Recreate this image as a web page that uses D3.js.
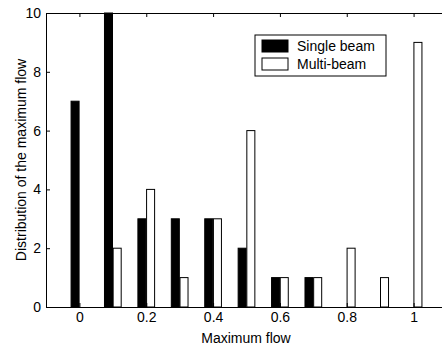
<!DOCTYPE html>
<html>
<head>
<meta charset="utf-8">
<script src="https://cdn.jsdelivr.net/npm/d3@7"></script>
<style>
  body { margin: 0; background: #fff; }
  svg { display: block; font-family: "Liberation Sans", Arial, sans-serif; }
</style>
</head>
<body>
<div id="chart"></div>
<script>
// ---- Data ----
const flowBins = [0, 0.1, 0.2, 0.3, 0.4, 0.5, 0.6, 0.7, 0.8, 0.9, 1.0];
const singleBeam = [7, 10, 3, 3, 3, 2, 1, 1, 0, 0, 0];
const multiBeam = [0, 2, 4, 1, 3, 6, 1, 1, 2, 1, 9];
const xTicks = [0, 0.2, 0.4, 0.6, 0.8, 1];
const yTicks = [0, 2, 4, 6, 8, 10];

const W = 442, H = 348;
const svg = d3.select("#chart").append("svg")
  .attr("width", W).attr("height", H);

// axes box (right edge falls just outside the picture)
const x = d3.scaleLinear().domain([-0.1, 1.1]).range([46, 447]);
const y = d3.scaleLinear().domain([0, 10]).range([307, 13]);
const barW = 0.024;

// ---- Bars ----
const series = [
  { name: "Single beam", values: singleBeam, fill: "#000", off: -barW - 0.001 },
  { name: "Multi-beam", values: multiBeam, fill: "#fff", off: 0.001 },
];

series.forEach(s => {
  svg.append("g").selectAll("rect")
    .data(flowBins.map((b, i) => ({ b, v: s.values[i] })))
    .join("rect")
    .attr("x", d => x(d.b + s.off))
    .attr("width", x(barW) - x(0))
    .attr("y", d => y(d.v))
    .attr("height", d => y(0) - y(d.v))
    .attr("fill", s.fill)
    .attr("stroke", "#000")
    .attr("stroke-width", 1);
});

// ---- Axes (MATLAB style, ticks pointing inward) ----
function styleAxis(g) {
  g.selectAll("path.domain").attr("stroke", "#000").attr("stroke-width", 1);
  g.selectAll(".tick line").attr("stroke", "#000");
  g.selectAll("text").attr("fill", "#000").style("font-size", "14px");
}

svg.append("g")
  .attr("transform", `translate(0,${y(0)})`)
  .call(d3.axisBottom(x).tickValues(xTicks).tickSize(-4).tickSizeOuter(0)
    .tickPadding(5).tickFormat(d3.format("~g")))
  .call(styleAxis);

svg.append("g")
  .attr("transform", `translate(0,${y(10)})`)
  .call(d3.axisTop(x).tickValues(xTicks).tickSize(-4).tickSizeOuter(0).tickFormat(""))
  .call(styleAxis);

svg.append("g")
  .attr("transform", `translate(${x(-0.1)},0)`)
  .call(d3.axisLeft(y).tickValues(yTicks).tickSize(-4).tickSizeOuter(0).tickPadding(5))
  .call(styleAxis);

svg.append("g")
  .attr("transform", `translate(${x(1.1)},0)`)
  .call(d3.axisRight(y).tickValues(yTicks).tickSize(-4).tickSizeOuter(0).tickFormat(""))
  .call(styleAxis);

// ---- Axis labels ----
svg.append("text")
  .attr("x", 246).attr("y", 343)
  .attr("text-anchor", "middle")
  .style("font-size", "14px")
  .text("Maximum flow");

svg.append("text")
  .attr("transform", `translate(26,${(y(0) + y(10)) / 2}) rotate(-90)`)
  .attr("text-anchor", "middle")
  .style("font-size", "14px")
  .text("Distribution of the maximum flow");

// ---- Legend ----
const legend = svg.append("g").attr("transform", "translate(255,35)");
legend.append("rect")
  .attr("width", 131).attr("height", 41)
  .attr("fill", "#fff").attr("stroke", "#000");
series.forEach((s, i) => {
  legend.append("rect")
    .attr("x", 7).attr("y", 5 + i * 18)
    .attr("width", 26).attr("height", 12)
    .attr("fill", s.fill).attr("stroke", "#000");
  legend.append("text")
    .attr("x", 42).attr("y", 16 + i * 18)
    .style("font-size", "14px")
    .text(s.name);
});
</script>
</body>
</html>
